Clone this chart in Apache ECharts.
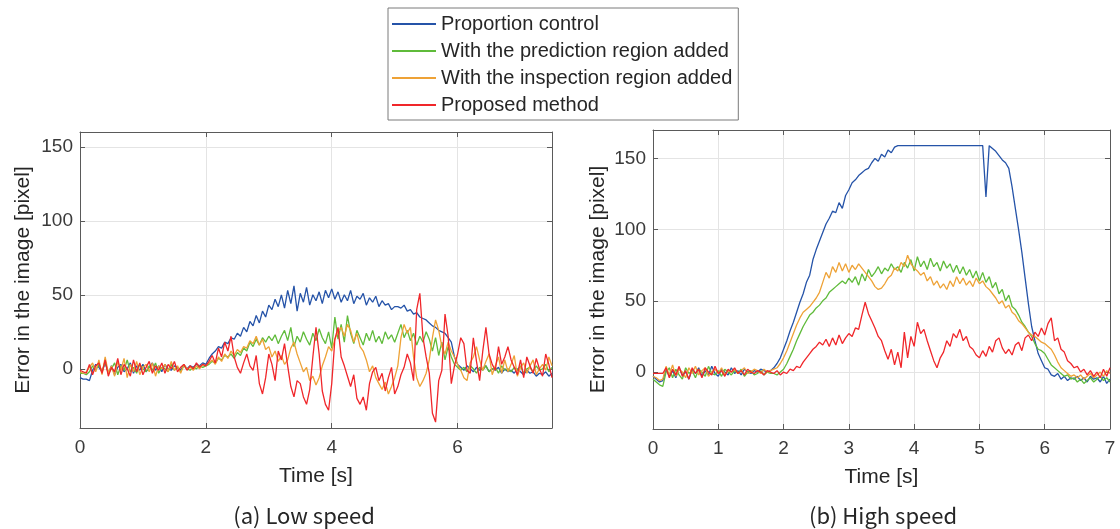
<!DOCTYPE html>
<html>
<head>
<meta charset="utf-8">
<script src="https://cdn.jsdelivr.net/npm/echarts@6/dist/echarts.min.js"></script>
<style>
  html, body { margin: 0; padding: 0; background: #ffffff; }
  #chart { width: 1120px; height: 529px; }
</style>
</head>
<body>
<div id="chart"></div>
<script>
// sample step of the recorded error signals [s]
const stepSec = 0.05;

const seriesNames = [
  "Proportion control",
  "With the prediction region added",
  "With the inspection region added",
  "Proposed method",
];
const seriesColors = ["#2553a8", "#5fbb3a", "#eea236", "#f0262a"];
const captions = ["(a) Low speed", "(b) High speed"];

// (a) low speed, t = 0 .. 7.5 s
const lowBlue = [
  -6, -7, -7, -8, -1,
  3, 1, -2, 4, -3, 2, -4, 1, 3, -2,
  0, 4, -3, 2, -1, 3, -2, 1, 4, -1,
  2, -2, 3, 0, -1, 2, 1, -1, 3, 0,
  2, 1, 3, 2, 4, 3,
  7, 10, 12, 15, 14, 18, 17, 21, 20, 24, 22, 28, 25, 32, 29, 36, 31, 39, 35, 43,
  40, 47, 42, 50, 41, 53, 44, 56, 39, 51, 45, 55, 43, 50, 46, 52, 44, 53, 48, 54,
  47, 52, 45, 50, 46, 53, 44, 49, 47, 51, 43, 48, 45, 49, 42, 46, 43, 44, 40, 42,
  42, 41, 43, 39, 40, 37, 38, 35, 34, 33, 31, 29, 28, 26, 25, 24, 21, 18, 8, 3,
  1, -1, 2, 0, -2, 1, -1, 0, 2, -2, 0, -1, 1, -3, 0, -2, -1, -3, 0, -2,
  -4, -1, -3, -2, -5, -3, -4, -2, -5, -3,
];
const lowGreen = [
  -3, -3, -4, -2, 2, -1, 3, -2, 5, -3,
  0, 4, -4, 2, -1, 6, -2, 1, -3, 3,
  0, -2, 2, -1, 4, -3, 1, 0, -2, 3,
  -1, 1, -2, 2, 0, -1, 1, 0, 2, 1,
  2,
  3, 5, 4, 7, 6, 9, 8, 10, 7, 11, 9, 14, 12, 18, 15, 20, 16, 21, 18, 22,
  19, 23, 17, 22, 26, 19, 28, 15, 22, 18, 25, 20, 16, 24, 19, 27, 21, 17, 25, 14,
  35, 20, 30, 18, 36, 24, 17, 26, 21, 16, 24, 19, 26, 18, 22, 17, 25, 20, 23, 18,
  24, 30, 21, 26, 19, 24, 16, 22, 18, 25, 20, 12, 21, 9, 18, 6, 15, 8, 3, 1,
  -1, 1, -2, 2, 0, -3, 1, -1, 2, -2, 0, 1, -3, 2, -1, 0, -2, 1, -1, 2,
  -3, 0, 1, -2, 2, -1, 0, 3, -2, 1,
];
const lowOrange = [
  -2, -3, -2, 1, 4, -2, 6, -4, 8, -3,
  2, -5, 5, -1, 7, -6, 3, -2, 5, -4,
  1, 3, -2, 4, -5, 2, 0, 3, -2, 5,
  -1, 2, -3, 3, 0, 1, -1, 2, 0, 3,
  2,
  4, 6, 3, 8, 5, 10, 7, 12, 9, 13, 11, 15, 14, 19, 17, 22, 16, 20, 13, 15,
  8, 12, 5, 9, 3, 6, 14, 18, 10, 4, -2, 1, -8, -5, -11, -6, 2, 8, 15, 12,
  20, 25, 28, 22, 30, 26, 18, 24, 15, 12, 6, -2, 2, -6, -10, -14, -9, -17, -12, -6,
  2, 21, 30, 24, 28, 8, -6, -12, -8, -3, 6, 21, 33, 26, 15, 10, 18, 12, 8, 3,
  -1, -6, -8, 4, 8, 15, 6, -1, 5, 10, -4, 2, 8, -3, 6, -2, 3, 9, -5, 1,
  4, -3, 2, 6, -4, 0, 3, -1, 8, 2,
];
const lowRed = [
  -1, -2, -3, 3, -4, 2, 4, -3, 6, -5,
  1, -2, 7, -4, 3, 0, -5, 6, -2, 4,
  -4, 1, 5, -3, 2, -1, 4, -3, 3, 0,
  5, -2, 1, 3, -1, 2, 0, 4, 1, 3,
  2,
  5, 9, 4, 14, 8, 18, 12, 22, 8, 1, -3, 4, 10, 2, -1, 9, -10, -17, -6, 10,
  3, -8, 12, 6, 17, 2, -12, -19, -8, -10, -19, -24, -14, 8, 28, 10, -15, -24, -28, -10,
  20, 28, 8, 2, -5, -12, -4, -20, -24, -19, -28, -10, -2, 1, -8, -3, -15, -6, 1, -17,
  -12, -4, 1, 10, 4, -8, 40, 51, 21, 8, -3, -30, -36, -8, -1, 37, 22, -10, 2, 10,
  21, 17, -1, -3, 21, 5, -8, 12, 28, 10, 3, -1, 15, 3, 8, 15, 6, 1, -4, 6,
  -6, 8, 2, -3, 7, 0, -5, 10, 3, -6,
];

// (b) high speed, t = 0 .. 7 s
const highBlue = [
  -3, -5, -7, -6,
  2, -3, 1, -4, 3, -2, 0, -5, 2, -1,
  3, -3, 1, -2, 4, -1, -3, 2, 0, -2,
  3, -1, 1, -2, 2, 0, -1, 1, 0, 2,
  1, 0, 1,
  3, 6, 10, 16, 22, 29, 35, 42, 49, 55, 63, 68, 79, 86,
  92, 98, 104, 108, 113, 112, 119, 115, 124, 128, 133, 135, 138, 140, 142, 143, 147, 150, 148, 153, 151, 156, 154, 158,
  159, 159, 159, 159, 159, 159, 159, 159, 159, 159, 159, 159, 159, 159,
  159, 159, 159, 159, 159, 159, 159, 159, 159, 159, 159, 159, 159,
  123,
  159, 157, 155, 152, 149, 147, 143, 130, 115, 100,
  84, 66, 48, 32, 22, 13, 8, 3, 2, -2,
  -3, -1, -5, -3, -6, -4, -5, -3, -6, -4,
  -7, -3, -5, -4, -7, -3, -8, -5,
];
const highGreen = [
  -5, -7, -9, -10,
  0, 3, -4, 2, -2, -5, 3, -1, 1, -4,
  2, 0, -3, 4, -1, -2, 1, -3, 2, 0,
  -2, 1, -1, 2, -3, 0, 1, -2, -1, 1,
  -2, 0, -1,
  -1, -2, 0, 2, 6, 11, 16, 22, 27, 32, 36, 40, 42, 45,
  47, 50, 52, 56, 58, 60, 62, 64, 62, 66, 63, 67, 61, 69, 64, 72, 67, 70, 74, 69, 73, 71, 76, 72,
  74, 70, 77, 73, 79, 71, 81, 74, 78, 72, 80, 74, 77, 71,
  78, 73, 76, 70, 75, 69, 74, 68, 72, 66, 71, 64, 70,
  63,
  67, 59, 63, 55, 58, 50, 54, 46, 44, 40,
  35, 32, 28, 25, 20, 16, 15, 13, 9, 5,
  3, 1, -1, -3, -2, -5, -4, -7, -5, -8,
  -6, -4, -7, -5, -3, -6, -4, -7,
];
const highOrange = [
  -3, -4, -6, -5,
  4, -2, 5, -3, 2, 0, -4, 3, -1, 4,
  -2, 1, 3, -3, 0, 2, -1, 3, -2, 1,
  0, 2, -1, 1, 3, -1, 0, 2, 1, -1,
  2, 0, 1,
  2, 3, 6, 10, 15, 21, 27, 33, 38, 42, 44, 46, 49, 52,
  56, 63, 70, 66, 74, 70, 77, 71, 76, 70, 75, 72, 76, 73, 70, 67, 64, 60, 58, 59, 62, 66, 68, 73,
  71, 77, 74, 82, 76, 73, 71, 68, 70, 64, 67, 61, 64, 59,
  62, 58, 64, 60, 67, 62, 66, 61, 64, 60, 66, 62, 64,
  60,
  58, 55, 52, 48, 50, 45, 47, 42, 40, 36,
  34, 31, 28, 26, 25, 23, 21, 20, 18, 16,
  12, 7, 3, 1, -1, -3, -2, -4, -2, -5,
  -3, -1, -4, -2, 0, -3, 1, -1,
];
const highRed = [
  -1, -1, -1, -1,
  3, -4, 2, -2, 4, -3, 1, -5, 3, -1,
  2, -4, 3, 0, -2, 4, -1, 1, -3, 2,
  0, 3, -1, 1, -2, 2, 0, -1, 1, 0,
  -2, 1, 0,
  -1, 1, -2, 0, -1, 2, 1, 4, 3, 7, 10, 13, 16, 18,
  21, 19, 23, 18, 24, 19, 26, 20, 24, 27, 25, 31, 30, 40, 49, 41, 36, 31, 25, 22, 15, 9, 16, 5,
  14, 3, 28, 10, 25, 18, 35, 27, 30, 22, 15, 8, 3, 10,
  14, 22, 18, 27, 24, 30, 22, 25, 18, 16, 12, 10, 15,
  11,
  18, 14, 22, 24, 17, 13, 16, 12, 19, 21,
  15, 24, 26, 22, 28, 25, 31, 26, 34, 38,
  22, 24, 16, 14, 8, 6, 3, 4, 0, 2,
  -2, 1, -3, 0, -4, 2, -3, 3,
];

const fontLatin = "'Liberation Sans', Arial, sans-serif";
const fontCaption = "'Noto Sans CJK JP', 'Noto Sans', sans-serif";
const frameColor = "#5a5a5a";
const gridColor = "#e4e4e4";

function pairs(values) {
  return values.map((v, i) => [Math.round(i * stepSec * 100) / 100, v]);
}

function tickLabel(interval) {
  return (value) => (Math.abs(value % interval) < 1e-9 ? String(value) : "");
}

function xAxisMain(grid, max, interval) {
  return {
    type: "value",
    gridIndex: grid,
    min: 0,
    max,
    interval,
    position: "bottom",
    name: "Time [s]",
    nameLocation: "middle",
    nameGap: 38,
    nameTextStyle: { fontSize: 21, color: "#262626", fontFamily: fontLatin },
    axisLine: { show: true, onZero: false, lineStyle: { color: frameColor, width: 1 } },
    axisTick: { show: true, inside: true, length: 5, lineStyle: { color: frameColor } },
    axisLabel: { fontSize: 19, color: "#3a3a3a", margin: 10, fontFamily: fontLatin, formatter: tickLabel(interval) },
    splitLine: { show: true, lineStyle: { color: gridColor, width: 1 } },
  };
}

function xAxisTop(grid, max, interval) {
  return {
    type: "value",
    gridIndex: grid,
    min: 0,
    max,
    interval,
    position: "top",
    axisLine: { show: true, onZero: false, lineStyle: { color: frameColor, width: 1 } },
    axisTick: { show: true, inside: true, length: 5, lineStyle: { color: frameColor } },
    axisLabel: { show: false },
    splitLine: { show: false },
  };
}

function yAxisMain(grid, min, max, gap) {
  return {
    type: "value",
    gridIndex: grid,
    min,
    max,
    splitNumber: 4,
    position: "left",
    name: "Error in the image [pixel]",
    nameLocation: "middle",
    nameGap: gap,
    nameTextStyle: { fontSize: 21, color: "#262626", fontFamily: fontLatin },
    axisLine: { show: true, onZero: false, lineStyle: { color: frameColor, width: 1 } },
    axisTick: { show: true, inside: true, length: 5, lineStyle: { color: frameColor } },
    axisLabel: { fontSize: 19, color: "#3a3a3a", margin: 7, fontFamily: fontLatin, formatter: tickLabel(50) },
    splitLine: { show: true, lineStyle: { color: gridColor, width: 1 } },
  };
}

function yAxisRight(grid, min, max) {
  return {
    type: "value",
    gridIndex: grid,
    min,
    max,
    splitNumber: 4,
    position: "right",
    axisLine: { show: true, onZero: false, lineStyle: { color: frameColor, width: 1 } },
    axisTick: { show: true, inside: true, length: 5, lineStyle: { color: frameColor } },
    axisLabel: { show: false },
    splitLine: { show: false },
  };
}

function trace(nameIdx, values, axisIdx) {
  return {
    name: seriesNames[nameIdx],
    type: "line",
    xAxisIndex: axisIdx,
    yAxisIndex: axisIdx,
    data: pairs(values),
    symbol: "none",
    showSymbol: false,
    lineStyle: { width: 1.3, color: seriesColors[nameIdx] },
    itemStyle: { color: seriesColors[nameIdx] },
    emphasis: { disabled: true },
  };
}

const chart = echarts.init(document.getElementById("chart"));
chart.setOption({
  animation: false,
  backgroundColor: "#ffffff",
  color: seriesColors,
  legend: {
    orient: "vertical",
    left: 388,
    top: 8,
    padding: [6, 6, 5, 4],
    itemGap: 7,
    itemWidth: 44,
    itemHeight: 2,
    icon: "rect",
    backgroundColor: "#ffffff",
    borderColor: "#7a7a7a",
    borderWidth: 1,
    textStyle: { fontSize: 20, lineHeight: 20, color: "#262626", fontFamily: fontLatin },
    data: seriesNames,
  },
  grid: [
    { left: 80, top: 132, width: 472, height: 296 },
    { left: 653, top: 130, width: 457, height: 299 },
  ],
  xAxis: [
    xAxisMain(0, 7.5, 2),
    xAxisTop(0, 7.5, 2),
    xAxisMain(1, 7, 1),
    xAxisTop(1, 7, 1),
  ],
  yAxis: [
    yAxisMain(0, -40, 160, 46),
    yAxisRight(0, -40, 160),
    yAxisMain(1, -40, 170, 44),
    yAxisRight(1, -40, 170),
  ],
  series: [
    trace(0, lowBlue, 0),
    trace(1, lowGreen, 0),
    trace(2, lowOrange, 0),
    trace(3, lowRed, 0),
    trace(0, highBlue, 2),
    trace(1, highGreen, 2),
    trace(2, highOrange, 2),
    trace(3, highRed, 2),
  ],
  graphic: [
    { type: "text", x: 304, y: 516, style: { text: captions[0], font: "22px " + fontCaption, fill: "#262626", align: "center", verticalAlign: "middle" } },
    { type: "text", x: 883, y: 516, style: { text: captions[1], font: "22px " + fontCaption, fill: "#262626", align: "center", verticalAlign: "middle" } },
  ],
});
</script>
</body>
</html>
